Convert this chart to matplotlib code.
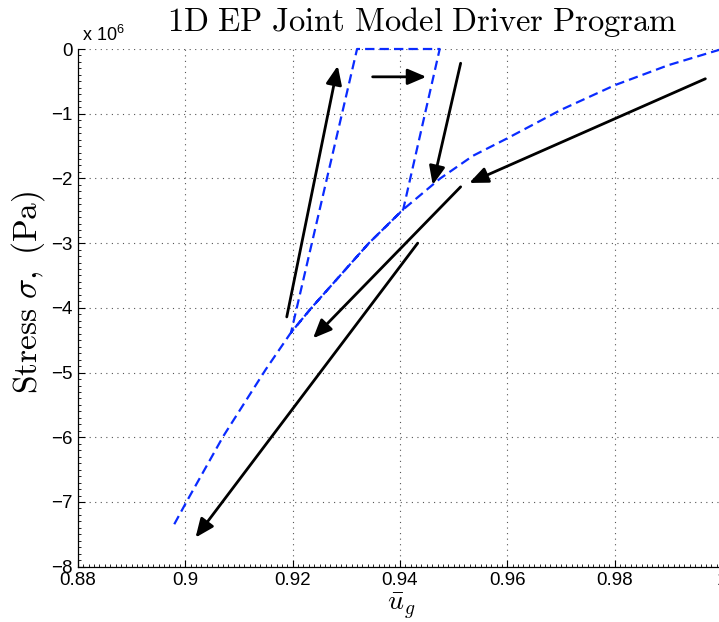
import numpy as np
import matplotlib
matplotlib.use("Agg")
import matplotlib.pyplot as plt
from matplotlib.ticker import MultipleLocator, FuncFormatter

plt.rcParams["mathtext.fontset"] = "cm"
plt.rcParams["font.family"] = ["Liberation Sans", "DejaVu Sans"]

# Normalised gap closure path (u_g) and joint stress (Pa)
u_g = [1.0, 0.99, 0.98, 0.97, 0.96, 0.9536, 0.9475, 0.9406, 0.9342, 0.9235,
       0.9197, 0.932, 0.9474, 0.9406, 0.9342, 0.9235, 0.9197, 0.915, 0.9071,
       0.9002, 0.8975]
stress = [0.0, -0.25e6, -0.56e6, -0.94e6, -1.38e6, -1.65e6, -2.0e6, -2.48e6,
          -3.0e6, -4.0e6, -4.38e6, 0.0, 0.0, -2.48e6, -3.0e6, -4.0e6, -4.38e6,
          -4.95e6, -5.98e6, -7.0e6, -7.41e6]

# Direction arrows: (u_tail, stress_tail, u_head, stress_head)
arrows = [
    (0.9969, -0.46e6, 0.9529, -2.07e6),
    (0.9513, -0.22e6, 0.9461, -2.10e6),
    (0.9349, -0.43e6, 0.9449, -0.43e6),
    (0.9189, -4.14e6, 0.9284, -0.26e6),
    (0.9513, -2.13e6, 0.9238, -4.47e6),
    (0.9433, -3.00e6, 0.9019, -7.55e6),
]

x_ticks = [0.88, 0.90, 0.92, 0.94, 0.96, 0.98, 1.0]
x_tick_labels = ["0.88", "0.9", "0.92", "0.94", "0.96", "0.98", "1"]
y_ticks = [0, -1e6, -2e6, -3e6, -4e6, -5e6, -6e6, -7e6, -8e6]

fig = plt.figure(figsize=(7.19, 6.22), dpi=100)
ax = fig.add_axes([78 / 719, (622 - 566.7) / 622, (722 - 78) / 719, (566.7 - 49) / 622])

line, = ax.plot(u_g, stress, color="#0a2bff", lw=1.6, clip_on=False)
line.set_dashes([4.2, 2.3])

for ut, st, uh, sh in arrows:
    ax.annotate("", xy=(uh, sh), xytext=(ut, st),
                arrowprops=dict(arrowstyle="-|>,head_length=0.75,head_width=0.32",
                                color="black", lw=2.0, shrinkA=0, shrinkB=0,
                                mutation_scale=15))

ax.set_xlim(0.88, 1.0)
ax.set_ylim(-8e6, 0)
ax.set_xticks(x_ticks)
ax.set_xticklabels(x_tick_labels)
ax.set_yticks(y_ticks)
ax.yaxis.set_major_formatter(FuncFormatter(lambda v, p: f"{v / 1e6:g}".replace("-", "\u2212")))
ax.xaxis.set_minor_locator(MultipleLocator(0.001))
ax.yaxis.set_minor_locator(MultipleLocator(0.1e6))

ax.tick_params(which="major", direction="in", length=5, width=0.8, labelsize=13.5, pad=4)
ax.tick_params(which="minor", direction="in", length=2, width=0.6)
ax.grid(True, which="major", linestyle=(0, (1, 4)), color="#555555", lw=0.8)

for side in ["top", "right"]:
    ax.spines[side].set_visible(False)
for side in ["left", "bottom"]:
    ax.spines[side].set_linewidth(0.9)

fig.text(82 / 719, 1 - 41 / 622, r"x 10$^{\mathregular{6}}$", fontsize=13,
         ha="left", va="baseline")

fig.text(422 / 719, 1 - 22 / 622,
         r"$\mathrm{1D\ EP\ Joint\ Model\ Driver\ Program}$",
         fontsize=23.5, ha="center", va="center")
fig.text(401 / 719, 1 - 606 / 622, r"$\bar{u}_g$", fontsize=20,
         ha="center", va="center")
fig.text(28 / 719, 1 - 292 / 622, r"$\mathrm{Stress}\ \sigma,\ \mathrm{(Pa)}$",
         fontsize=24, ha="center", va="center", rotation=90)

fig.savefig("out.png", dpi=100)
